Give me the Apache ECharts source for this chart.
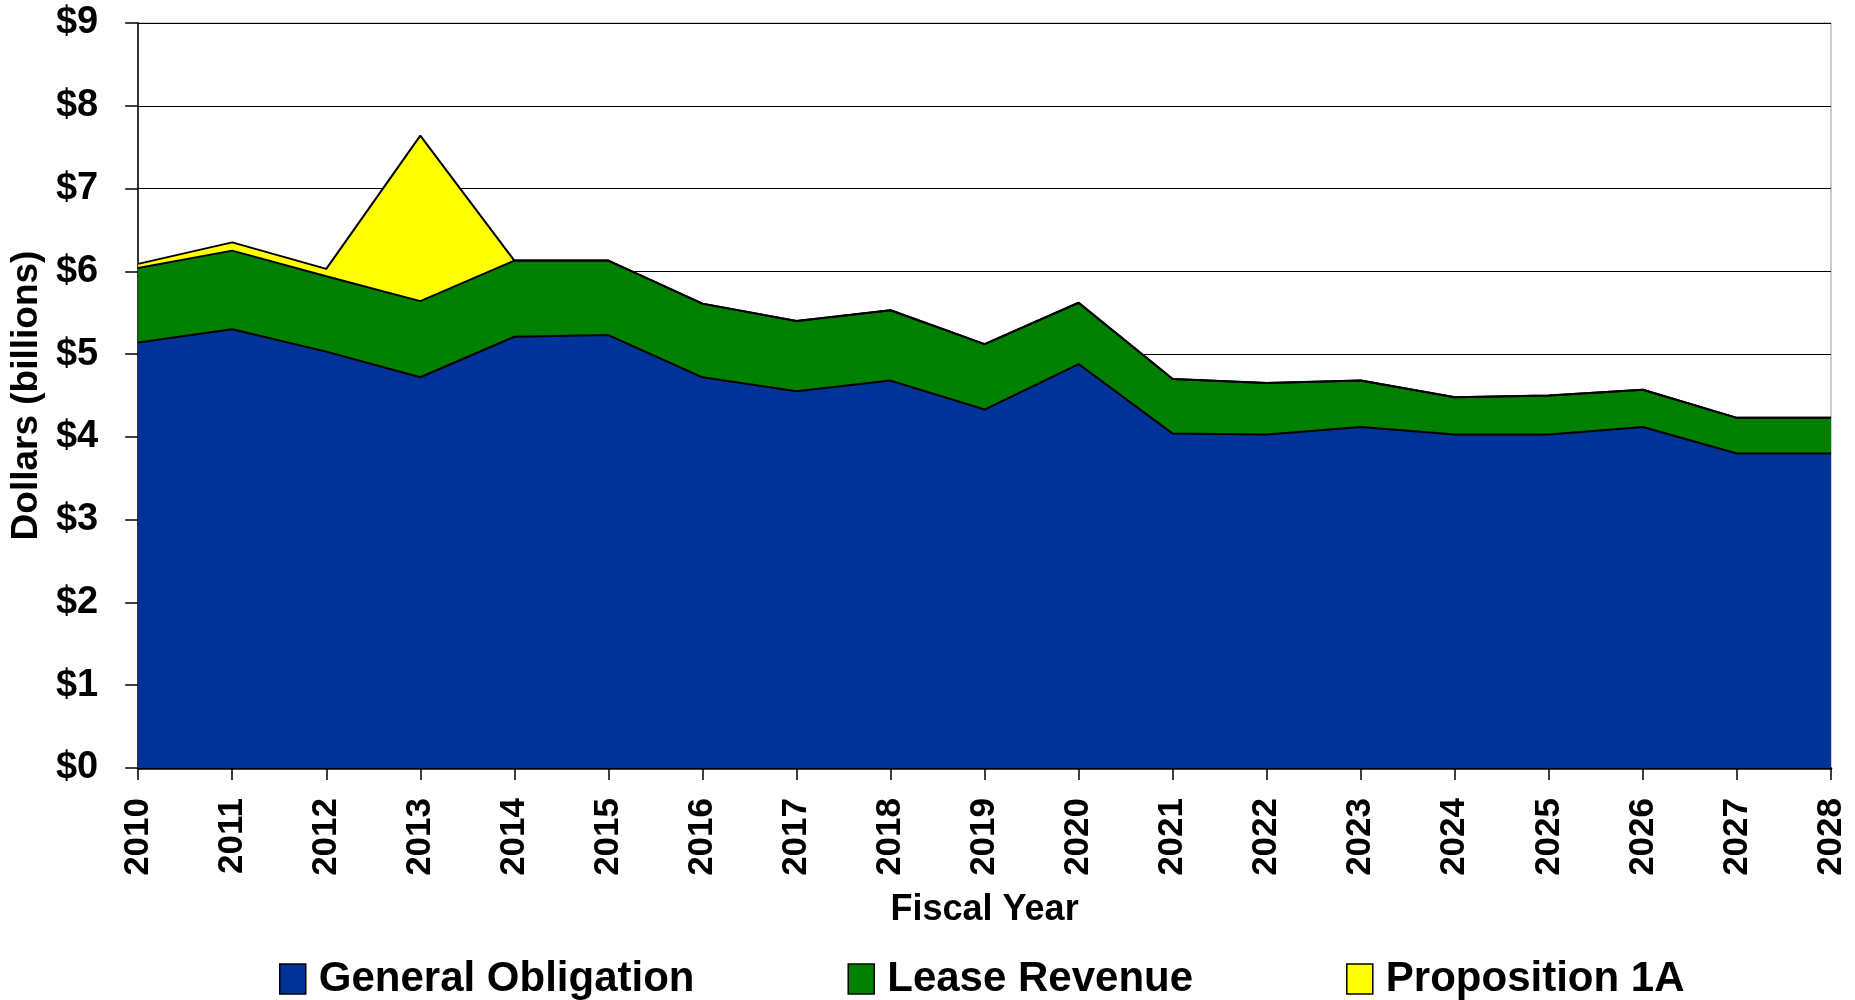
<!DOCTYPE html>
<html>
<head>
<meta charset="utf-8">
<script src="https://cdn.jsdelivr.net/npm/echarts@6/dist/echarts.min.js"></script>
<style>
  html, body { margin: 0; padding: 0; background: #fff; }
  #chart { width: 1855px; height: 1000px; }
</style>
</head>
<body>
<div id="chart"></div>
<script>
// fiscal years and debt service by bond type, $ billions
const years = ['2010', '2011', '2012', '2013', '2014', '2015', '2016', '2017', '2018', '2019',
  '2020', '2021', '2022', '2023', '2024', '2025', '2026', '2027', '2028'];
const generalObligation = [5.14, 5.30, 5.03, 4.72, 5.21, 5.23, 4.72, 4.55, 4.68, 4.33,
  4.88, 4.04, 4.03, 4.12, 4.03, 4.03, 4.12, 3.80, 3.80];
const leaseRevenue = [0.90, 0.95, 0.91, 0.92, 0.92, 0.90, 0.89, 0.85, 0.85, 0.79,
  0.74, 0.66, 0.62, 0.56, 0.45, 0.47, 0.45, 0.43, 0.43];
const proposition1A = [0.05, 0.10, 0.09, 2.00, 0, 0, 0, 0, 0, 0,
  0, 0, 0, 0, 0, 0, 0, 0, 0];
const yTicks = [0, 9, 1]; // min, max, interval

const font = '"Liberation Sans", Arial, sans-serif';

const makeSeries = (name, data, color) => ({
  name,
  type: 'line',
  stack: 'total',
  data,
  symbol: 'none',
  lineStyle: { color: '#000', width: 2 },
  itemStyle: { color: color },
  areaStyle: { color: color, opacity: 1 },
  emphasis: { disabled: true },
});

const chart = echarts.init(document.getElementById('chart'));
chart.setOption({
  animation: false,
  textStyle: { fontFamily: font },
  grid: {
    left: 133, right: 24, top: 23, bottom: 232,
    show: true, borderColor: '#999', borderWidth: 1,
  },
  legend: {
    top: 953,
    left: 274,
    icon: 'rect',
    itemWidth: 26,
    itemHeight: 30,
    itemGap: 153,
    itemStyle: { borderColor: '#000', borderWidth: 1.5 },
    textStyle: { fontSize: 42, fontWeight: 'bold', color: '#000', fontFamily: font, padding: [0, 0, 0, 8] },
    data: ['General Obligation', 'Lease Revenue', 'Proposition 1A'],
  },
  xAxis: {
    type: 'category',
    boundaryGap: false,
    data: years,
    name: 'Fiscal Year',
    nameLocation: 'middle',
    nameGap: 124,
    nameTextStyle: { fontSize: 36, fontWeight: 'bold', color: '#000', fontFamily: font },
    axisLine: { lineStyle: { color: '#000', width: 2.5 } },
    axisTick: { show: true, length: 12, lineStyle: { color: '#000', width: 1.5 } },
    axisLabel: {
      rotate: 90, margin: 30, fontSize: 35, fontWeight: 'bold', color: '#000',
      fontFamily: font, interval: 0,
    },
    splitLine: { show: false },
  },
  yAxis: {
    type: 'value',
    min: yTicks[0], max: yTicks[1], interval: yTicks[2],
    name: 'Dollars (billions)',
    nameLocation: 'middle',
    nameGap: 92,
    nameRotate: 90,
    nameTextStyle: { fontSize: 37, fontWeight: 'bold', color: '#000', fontFamily: font },
    axisLine: { show: true, lineStyle: { color: '#000', width: 1.5 } },
    axisTick: { show: true, length: 13, lineStyle: { color: '#000', width: 1.5 } },
    axisLabel: {
      margin: 40, fontSize: 38, fontWeight: 'bold', color: '#000', fontFamily: font,
      formatter: v => '$' + v,
    },
    splitLine: { show: true, lineStyle: { color: '#000', width: 1.2 } },
  },
  series: [
    makeSeries('General Obligation', generalObligation, '#003399'),
    makeSeries('Lease Revenue', leaseRevenue, '#008000'),
    makeSeries('Proposition 1A', proposition1A, '#FFFF00'),
  ],
});
</script>
</body>
</html>
